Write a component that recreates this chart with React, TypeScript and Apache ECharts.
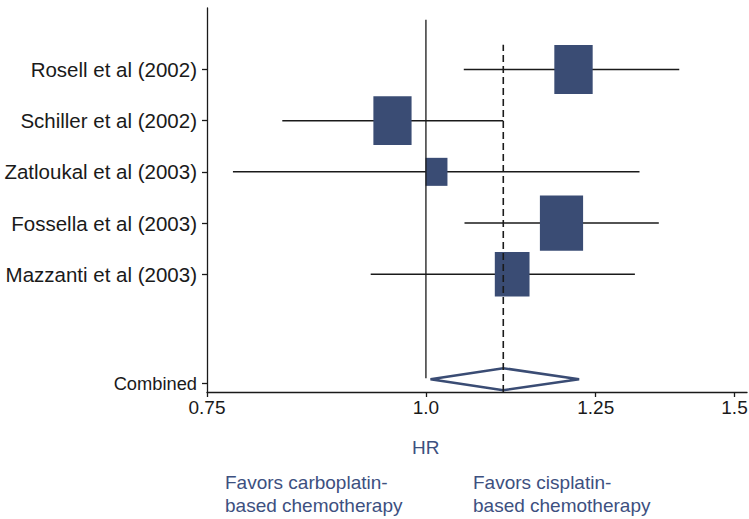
import React, { useEffect, useRef } from "react";
import * as echarts from "echarts";

// ---- data ----
const studies = [
  "Rosell et al (2002)",
  "Schiller et al (2002)",
  "Zatloukal et al (2003)",
  "Fossella et al (2003)",
  "Mazzanti et al (2003)",
];
const hr = [1.214, 0.957, 1.014, 1.195, 1.12];
const ciLow = [1.051, 0.828, 0.776, 1.052, 0.93];
const ciHigh = [1.395, 1.107, 1.324, 1.358, 1.316];
const weights = [22.7, 22.5, 7.4, 28.8, 18.6];

const combinedLabel = "Combined";
const combinedHR = 1.107;
const combinedLow = 1.006;
const combinedHigh = 1.223;

const xTickValues = [0.75, 1.0, 1.25, 1.5];
const xTickLabels = ["0.75", "1.0", "1.25", "1.5"];
const xAxisName = "HR";
const favorsLeft = "Favors carboplatin-\nbased chemotherapy";
const favorsRight = "Favors cisplatin-\nbased chemotherapy";

// ---- layout ----
const rowY = (i: number) => 6.3 - i;
const combinedTickY = 0.17;
const combinedDiamondY = 0.25;
const BLUE = "#3a4c74";
const TEXT_BLUE = "#3d5080";
const FONT = "Liberation Sans";

export default function App() {
  const ref = useRef<HTMLDivElement>(null);
  useEffect(() => {
    if (!ref.current) return;
    const chart = echarts.init(ref.current, undefined, { renderer: "svg" });

    const yTickVals = [...studies.map((_, i) => rowY(i)), combinedTickY];
    const yTickNames = [...studies, combinedLabel];

    const studyData = studies.map((_, i) => [
      Math.log(ciLow[i]),
      Math.log(ciHigh[i]),
      Math.log(hr[i]),
      rowY(i),
      weights[i],
    ]);

    const option: any = {
      animation: false,
      grid: {
        left: 207,
        right: 2,
        top: 8,
        bottom: 127,
        outerBoundsMode: "none",
      },
      xAxis: {
        type: "value",
        min: Math.log(0.75),
        max: Math.log(0.75) + 540 / 761,
        axisLine: { show: true, onZero: false, lineStyle: { color: "#1a1a1a", width: 1.3 } },
        axisTick: {
          show: true,
          customValues: xTickValues.map((v) => Math.log(v)),
          length: 5,
          lineStyle: { color: "#1a1a1a", width: 1.3 },
        },
        axisLabel: {
          customValues: xTickValues.map((v) => Math.log(v)),
          formatter: (v: number) => {
            let best = 0;
            xTickValues.forEach((t, k) => {
              if (Math.abs(Math.log(t) - v) < Math.abs(Math.log(xTickValues[best]) - v)) best = k;
            });
            return xTickLabels[best];
          },
          color: "#1a1a1a",
          fontFamily: FONT,
          fontSize: 19,
          margin: 6,
        },
        splitLine: { show: false },
      },
      yAxis: {
        type: "value",
        min: 0,
        max: 7.5,
        axisLine: { show: true, onZero: false, lineStyle: { color: "#1a1a1a", width: 1.3 } },
        axisTick: {
          show: true,
          customValues: yTickVals,
          length: 5,
          lineStyle: { color: "#1a1a1a", width: 1.3 },
        },
        axisLabel: {
          customValues: yTickVals,
          formatter: (v: number) => {
            let best = 0;
            yTickVals.forEach((t, k) => {
              if (Math.abs(t - v) < Math.abs(yTickVals[best] - v)) best = k;
            });
            const name = yTickNames[best];
            return name === combinedLabel ? `{c|${name}}` : name;
          },
          rich: { c: { fontSize: 18.3, fontFamily: FONT, color: "#1a1a1a" } },
          color: "#1a1a1a",
          fontFamily: FONT,
          fontSize: 20.5,
          margin: 10,
        },
        splitLine: { show: false },
      },
      series: [
        {
          type: "line",
          data: [
            [0, 0.27],
            [0, 7.27],
          ],
          symbol: "none",
          lineStyle: { color: "#1a1a1a", width: 1.3 },
          silent: true,
        },
        {
          type: "line",
          data: [
            [Math.log(combinedHR), 0],
            [Math.log(combinedHR), 6.78],
          ],
          symbol: "none",
          lineStyle: { color: "#1a1a1a", width: 1.6, type: [7, 4] },
          silent: true,
        },
        {
          type: "custom",
          data: studyData,
          encode: { x: [0, 1, 2], y: 3 },
          renderItem: (params: any, api: any) => {
            const y = api.value(3);
            const lo = api.coord([api.value(0), y]);
            const hi = api.coord([api.value(1), y]);
            const c = api.coord([api.value(2), y]);
            const w = 8.05 * Math.sqrt(api.value(4));
            const h = w * 1.28;
            return {
              type: "group",
              children: [
                {
                  type: "line",
                  shape: { x1: lo[0], y1: lo[1], x2: hi[0], y2: hi[1] },
                  style: { stroke: "#1a1a1a", lineWidth: 1.5 },
                },
                {
                  type: "rect",
                  shape: { x: c[0] - w / 2, y: c[1] - h / 2, width: w, height: h },
                  style: { fill: BLUE },
                },
              ],
            };
          },
        },
        {
          type: "custom",
          data: [[Math.log(combinedLow), Math.log(combinedHigh), Math.log(combinedHR), combinedDiamondY]],
          encode: { x: [0, 1, 2], y: 3 },
          renderItem: (params: any, api: any) => {
            const y = api.value(3);
            const lo = api.coord([api.value(0), y]);
            const hi = api.coord([api.value(1), y]);
            const c = api.coord([api.value(2), y]);
            const hh = 11;
            return {
              type: "polygon",
              shape: {
                points: [
                  [lo[0], lo[1]],
                  [c[0], c[1] - hh],
                  [hi[0], hi[1]],
                  [c[0], c[1] + hh],
                ],
              },
              style: { fill: "none", stroke: BLUE, lineWidth: 2.5 },
            };
          },
        },
      ],
      graphic: [
        {
          type: "text",
          left: 412,
          top: 438,
          style: { text: xAxisName, fill: TEXT_BLUE, font: `19px "${FONT}"` },
        },
        {
          type: "text",
          left: 225,
          top: 471,
          style: { text: favorsLeft, fill: TEXT_BLUE, font: `19px "${FONT}"`, lineHeight: 23 },
        },
        {
          type: "text",
          left: 473,
          top: 471,
          style: { text: favorsRight, fill: TEXT_BLUE, font: `19px "${FONT}"`, lineHeight: 23 },
        },
      ],
    };
    chart.setOption(option);
    return () => chart.dispose();
  }, []);
  return (
    <div
      ref={ref}
      style={{ position: "fixed", left: 0, top: 0, width: 749, height: 519, background: "#fff" }}
    />
  );
}
